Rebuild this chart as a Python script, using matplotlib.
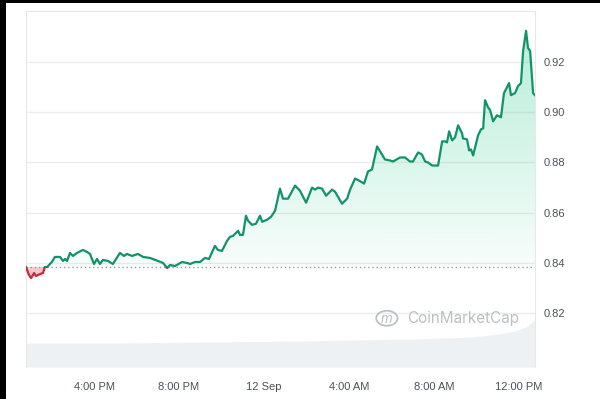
import numpy as np
import matplotlib
matplotlib.use("Agg")
import matplotlib.pyplot as plt
import matplotlib.path as mpath
from matplotlib.patches import Rectangle, Circle

# Price series (hours since 11 Sep 00:00, USD)
hours = np.array([
    12.80, 12.94, 13.04, 13.18, 13.27, 13.46, 13.60, 13.69, 13.79, 14.02,
    14.16, 14.40, 14.54, 14.64, 14.73, 14.87, 15.01, 15.20, 15.48, 15.67,
    15.81, 16.00, 16.14, 16.28, 16.42, 16.66, 16.89, 17.22, 17.41, 17.55,
    17.79, 18.07, 18.31, 18.64, 19.01, 19.25, 19.44, 19.58, 19.81, 20.14,
    20.38, 20.52, 20.75, 20.99, 21.22, 21.41, 21.69, 21.83, 22.02, 22.26,
    22.40, 22.54, 22.78, 22.87, 23.01, 23.15, 23.25, 23.43, 23.62, 23.81,
    23.91, 24.14, 24.33, 24.52, 24.75, 24.89, 25.13, 25.46, 25.69, 25.98,
    26.26, 26.40, 26.54, 26.73, 26.92, 27.20, 27.34, 27.67, 27.91, 28.05,
    28.28, 28.47, 28.71, 28.89, 29.08, 29.32, 29.46, 29.69, 29.93, 30.07,
    30.40, 30.63, 30.87, 31.01, 31.25, 31.43, 31.58, 31.72, 31.91, 32.19,
    32.38, 32.52, 32.61, 32.71, 32.85, 32.99, 33.13, 33.32, 33.36, 33.55,
    33.65, 33.74, 33.84, 33.98, 34.07, 34.21, 34.31, 34.40, 34.54, 34.64,
    34.78, 34.96, 35.15, 35.29, 35.53, 35.62, 35.81, 35.95, 36.09, 36.19,
    36.33, 36.42, 36.52, 36.66, 36.75,
])
prices = np.array([
    0.8384, 0.8352, 0.8340, 0.8360, 0.8348, 0.8356, 0.8360, 0.8384, 0.8384, 0.8404,
    0.8424, 0.8424, 0.8408, 0.8416, 0.8408, 0.8440, 0.8428, 0.8440, 0.8452, 0.8444,
    0.8436, 0.8396, 0.8416, 0.8396, 0.8412, 0.8408, 0.8396, 0.8440, 0.8428, 0.8436,
    0.8428, 0.8436, 0.8424, 0.8420, 0.8408, 0.8400, 0.8380, 0.8392, 0.8388, 0.8404,
    0.8400, 0.8396, 0.8404, 0.8404, 0.8420, 0.8416, 0.8468, 0.8452, 0.8448, 0.8488,
    0.8504, 0.8508, 0.8528, 0.8512, 0.8512, 0.8588, 0.8568, 0.8552, 0.8556, 0.8588,
    0.8564, 0.8572, 0.8584, 0.8608, 0.8696, 0.8656, 0.8656, 0.8708, 0.8688, 0.8640,
    0.8700, 0.8692, 0.8700, 0.8696, 0.8668, 0.8692, 0.8684, 0.8636, 0.8656, 0.8692,
    0.8736, 0.8728, 0.8716, 0.8764, 0.8772, 0.8864, 0.8844, 0.8812, 0.8808, 0.8804,
    0.8820, 0.8820, 0.8804, 0.8804, 0.8840, 0.8832, 0.8804, 0.8800, 0.8788, 0.8788,
    0.8884, 0.8884, 0.8880, 0.8924, 0.8888, 0.8900, 0.8948, 0.8916, 0.8896, 0.8892,
    0.8848, 0.8852, 0.8828, 0.8876, 0.8908, 0.8932, 0.8936, 0.9048, 0.9020, 0.9008,
    0.8964, 0.8988, 0.8980, 0.9076, 0.9116, 0.9068, 0.9076, 0.9104, 0.9116, 0.9244,
    0.9324, 0.9256, 0.9244, 0.9076, 0.9068,
])
ref_price = 0.8384

# Volume (arbitrary units)
vol_hours = np.array([12.80, 16.28, 21.00, 25.70, 28.05, 31.34, 33.70, 35.10, 35.80, 36.30, 36.75])
vol_values = np.array([6.7, 6.7, 7.0, 7.3, 7.6, 7.9, 8.4, 9.3, 10.1, 11.2, 13.2])

tick_hours = [16, 20, 24, 28, 32, 36]
tick_labels = ["4:00 PM", "8:00 PM", "12 Sep", "4:00 AM", "8:00 AM", "12:00 PM"]
y_ticks = [0.82, 0.84, 0.86, 0.88, 0.90, 0.92]

green = "#11936a"
green_fill = "#16c784"
red = "#c42a3a"
label_color = "#4d5158"

plt.rcParams["font.family"] = ["Liberation Sans", "DejaVu Sans"]

fig = plt.figure(figsize=(6, 3.99), dpi=100)
pos = [26 / 600, 1 - 367 / 399, (535 - 26) / 600, (367 - 11) / 399]

# volume axes behind
axv = fig.add_axes(pos, zorder=0)
axv.fill_between(vol_hours, 0, vol_values, color="#eef1f4", lw=0)
axv.set_xlim(12.80, 36.75)
axv.set_ylim(0, 100)
axv.axis("off")

ax = fig.add_axes(pos, zorder=1)
ax.patch.set_alpha(0)
x0, x1 = 12.80, 36.75
y0, y1 = 0.7986, 0.9403

# green gradient above reference
poly = ax.fill_between(hours, prices, ref_price, where=prices >= ref_price,
                       interpolate=True, color="none", lw=0)
n = 256
rgba = np.zeros((n, 1, 4))
rgba[:, 0, :3] = matplotlib.colors.to_rgb(green_fill)
rgba[:, 0, 3] = np.linspace(0.03, 0.32, n)
img = ax.imshow(rgba, extent=[x0, x1, ref_price, 0.935], aspect="auto",
                origin="lower", zorder=1, interpolation="bilinear")
clip = mpath.Path.make_compound_path(*poly.get_paths())
img.set_clip_path(clip, transform=ax.transData)

# red fill below reference
ax.fill_between(hours, prices, ref_price, where=prices <= ref_price,
                interpolate=True, color="#ea3943", alpha=0.28, lw=0, zorder=1)

# line, split in colour at the reference
up, = ax.plot(hours, prices, color=green, lw=1.6, zorder=3, solid_joinstyle="round")
up.set_clip_path(Rectangle((x0, ref_price), x1 - x0, y1 - ref_price, transform=ax.transData))
down, = ax.plot(hours, prices, color=red, lw=1.6, zorder=3, solid_joinstyle="round")
down.set_clip_path(Rectangle((x0, y0), x1 - x0, ref_price - y0, transform=ax.transData))

ax.axhline(ref_price, color="#9a9a9a", lw=1, ls=(0, (1, 2)), zorder=2)

ax.set_xlim(x0, x1)
ax.set_ylim(y0, y1)
ax.set_yticks(y_ticks)
ax.set_yticklabels([f"{v:.2f}" for v in y_ticks])
ax.set_xticks(tick_hours)
ax.set_xticklabels(tick_labels)
ax.yaxis.tick_right()
ax.tick_params(axis="y", length=0, pad=6, labelsize=8, labelcolor=label_color)
ax.tick_params(axis="x", length=0, pad=11, labelsize=8, labelcolor=label_color)
ax.yaxis.grid(True, color="#ececec", lw=1)
ax.set_axisbelow(True)
for side in ["left", "top", "right"]:
    ax.spines[side].set_color("#e8e8e8")
ax.spines["bottom"].set_visible(False)

# watermark
ax.text(0.748, 0.137, "CoinMarketCap", transform=ax.transAxes, fontsize=11,
        color="#bcc0c5", va="center", ha="left", family=["Inter", "DejaVu Sans"], zorder=2)
ax.add_patch(Circle((0.709, 0.137), 0.021, transform=ax.transAxes, fill=False,
                    ec="#bcc0c5", lw=1.3, zorder=2))
ax.text(0.709, 0.135, "m", transform=ax.transAxes, fontsize=10, color="#bcc0c5",
        ha="center", va="center", style="italic", zorder=2)

# dark frame edges from the screenshot
fig.add_artist(Rectangle((0, 1 - 2.5 / 399), 1, 2.5 / 399, transform=fig.transFigure,
                         color="black", lw=0))
fig.add_artist(Rectangle((0, 0), 5.5 / 600, 1, transform=fig.transFigure,
                         color="black", lw=0))

fig.savefig("out.png", dpi=100)
